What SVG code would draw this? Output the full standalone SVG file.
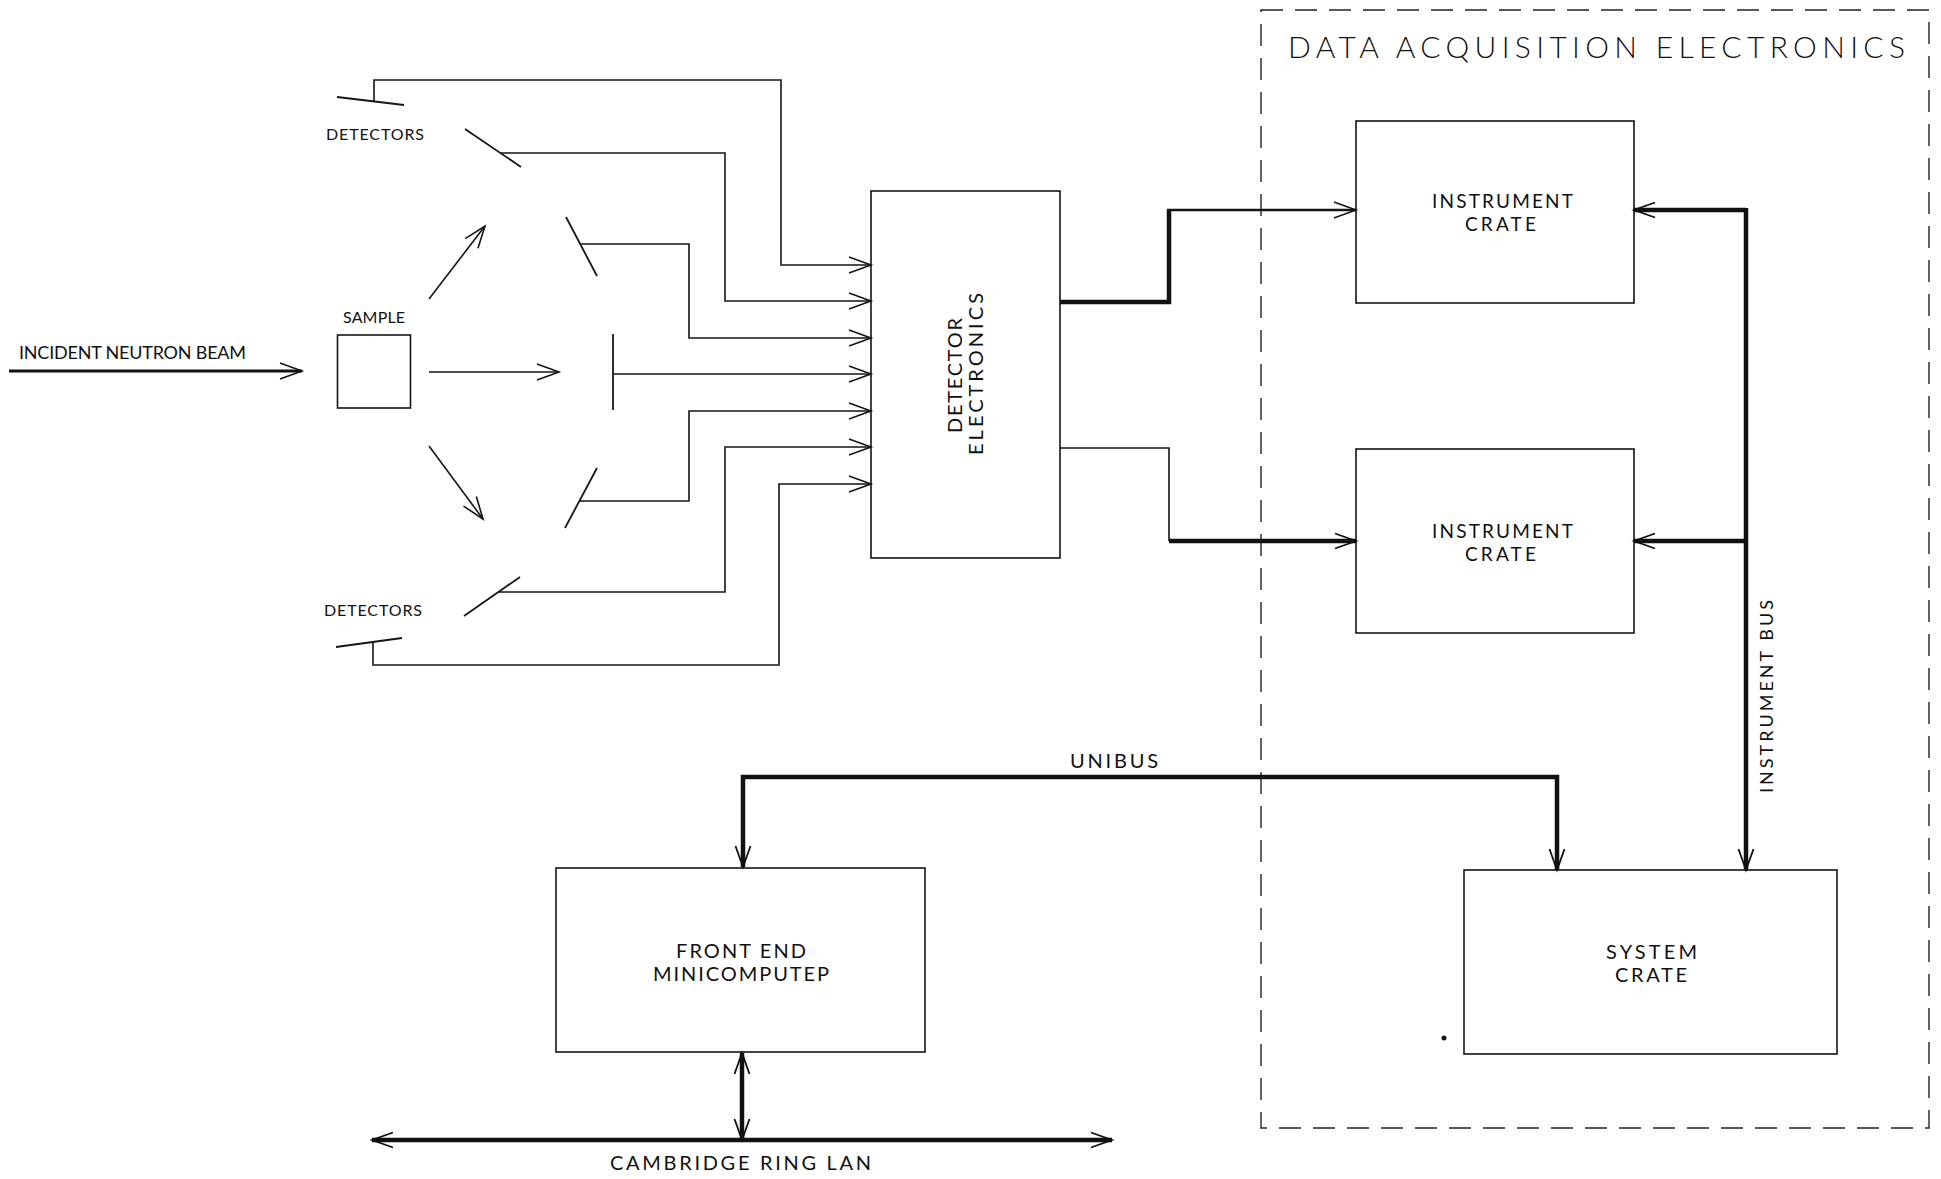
<svg xmlns="http://www.w3.org/2000/svg" width="1941" height="1179" viewBox="0 0 1941 1179">
<style>
  .bg{fill:#fff}
  .box{fill:none;stroke:#151515;stroke-width:1.6}
  .thin{fill:none;stroke:#151515;stroke-width:1.6}
  .med{fill:none;stroke:#151515;stroke-width:2.4}
  .thick{fill:none;stroke:#111;stroke-width:4.5}
  .det{fill:none;stroke:#151515;stroke-width:1.8}
  .dash{fill:none;stroke:#222;stroke-width:1.4;stroke-dasharray:22 12}
  text{font-family:Lato,"Liberation Sans",Arial,sans-serif;font-weight:400;fill:#111;font-size:19px}
  .s16{font-size:16px}
  .s18{font-size:18px}
  .s20{font-size:20px}
  .s30{font-size:30px;font-weight:300}
</style>
<defs>
  <marker id="ah" viewBox="-24 -10 26 20" refX="0" refY="0" markerWidth="26" markerHeight="20" markerUnits="userSpaceOnUse" orient="auto-start-reverse" overflow="visible">
    <path d="M-22,-8 L0,0 L-22,8" fill="none" stroke="#151515" stroke-width="1.6"/>
  </marker>
  <marker id="ahb" viewBox="-24 -10 26 20" refX="0" refY="0" markerWidth="26" markerHeight="20" markerUnits="userSpaceOnUse" orient="auto-start-reverse" overflow="visible">
    <path d="M-21,-7.5 L0,0 L-21,7.5" fill="none" stroke="#111" stroke-width="1.8"/>
  </marker>
</defs>
<rect class="bg" x="0" y="0" width="1941" height="1179"/>

<g id="beam-label">
  <text x="19" y="359" class="s18" textLength="227" lengthAdjust="spacing">INCIDENT NEUTRON BEAM</text>
</g>

<g id="sample">
  <rect class="box" x="337.5" y="335" width="73" height="73"/>
  <text x="343" y="323" class="s16" textLength="62" lengthAdjust="spacing">SAMPLE</text>
</g>

<g id="detectors">
  <text x="326" y="140" class="s16" textLength="98" lengthAdjust="spacing">DETECTORS</text>
  <text x="324" y="616" class="s16" textLength="98" lengthAdjust="spacing">DETECTORS</text>
  <line class="det" x1="337" y1="97" x2="404" y2="105"/>
  <line class="det" x1="465" y1="129" x2="521" y2="167"/>
  <line class="det" x1="566" y1="217" x2="597" y2="276"/>
  <line class="det" x1="613" y1="334" x2="613" y2="410"/>
  <line class="det" x1="597" y1="468" x2="565" y2="528"/>
  <line class="det" x1="520" y1="577" x2="464" y2="616"/>
  <line class="det" x1="402" y1="638" x2="336" y2="647"/>
</g>

<g id="detector-electronics">
  <rect class="box" x="871" y="191" width="189" height="367"/>
  <g transform="translate(965,375) rotate(-90)">
    <text x="-58" y="-3" class="s20" textLength="115" lengthAdjust="spacing">DETECTOR</text>
    <text x="-80" y="18" class="s20" textLength="162" lengthAdjust="spacing">ELECTRONICS</text>
  </g>
</g>

<g id="data-acquisition-electronics">
  <rect class="dash" x="1261" y="10" width="668" height="1118"/>
  <text x="1288" y="58" class="s30" textLength="617" lengthAdjust="spacing">DATA ACQUISITION ELECTRONICS</text>
  <circle cx="1444" cy="1038" r="2.5" fill="#151515"/>
</g>

<g id="instrument-crate-1">
  <rect class="box" x="1356" y="121" width="278" height="182"/>
  <text x="1432" y="208" textLength="141" lengthAdjust="spacing">INSTRUMENT</text>
  <text x="1465" y="231" textLength="71" lengthAdjust="spacing">CRATE</text>
</g>

<g id="instrument-crate-2">
  <rect class="box" x="1356" y="449" width="278" height="184"/>
  <text x="1432" y="538" textLength="141" lengthAdjust="spacing">INSTRUMENT</text>
  <text x="1465" y="561" textLength="71" lengthAdjust="spacing">CRATE</text>
</g>

<g id="front-end-minicomputer">
  <rect class="box" x="556" y="868" width="369" height="184"/>
  <text x="676" y="958" class="s20" textLength="130" lengthAdjust="spacing">FRONT END</text>
  <text x="653" y="981" class="s20" textLength="176" lengthAdjust="spacing">MINICOMPUTEP</text>
</g>

<g id="system-crate">
  <rect class="box" x="1464" y="870" width="373" height="184"/>
  <text x="1606" y="959" class="s20" textLength="91" lengthAdjust="spacing">SYSTEM</text>
  <text x="1615" y="982" class="s20" textLength="72" lengthAdjust="spacing">CRATE</text>
</g>

<g id="connectors">
  <!-- incident beam -->
  <path d="M9,371 H302" fill="none" stroke="#111" stroke-width="3" marker-end="url(#ah)"/>
  <!-- scattered beams -->
  <path class="thin" d="M429,372 H559" marker-end="url(#ah)"/>
  <path class="thin" d="M429,299 L485,226" marker-end="url(#ah)"/>
  <path class="thin" d="M429,446 L483,519" marker-end="url(#ah)"/>
  <!-- detector signal lines -->
  <path class="thin" d="M374,101 V80 H781 V265 H871" marker-end="url(#ah)"/>
  <path class="thin" d="M500,153 H725 V301 H871" marker-end="url(#ah)"/>
  <path class="thin" d="M580,244 H689 V338 H871" marker-end="url(#ah)"/>
  <path class="thin" d="M613,374 H871" marker-end="url(#ah)"/>
  <path class="thin" d="M579,501 H689 V411 H871" marker-end="url(#ah)"/>
  <path class="thin" d="M498,592 H725 V447 H871" marker-end="url(#ah)"/>
  <path class="thin" d="M373,642 V665 H779 V484 H871" marker-end="url(#ah)"/>
  <!-- detector electronics to instrument crates -->
  <path class="thick" d="M1060,302 H1169 V210"/>
  <path class="med" d="M1167,210 H1356" marker-end="url(#ah)"/>
  <path class="thin" d="M1060,448 H1169 V541"/>
  <path class="thick" d="M1169,541 H1356" marker-end="url(#ahb)"/>
  <!-- instrument bus -->
  <path class="thick" d="M1746,208 V870" marker-end="url(#ahb)"/>
  <path class="thick" d="M1746,210 H1634" marker-end="url(#ahb)"/>
  <path class="thick" d="M1746,541 H1634" marker-end="url(#ahb)"/>
  <text transform="translate(1773,793) rotate(-90)" x="0" y="0" class="s18" textLength="193" lengthAdjust="spacing">INSTRUMENT BUS</text>
  <!-- unibus -->
  <path class="thick" d="M743,867 V777 H1557 V870" marker-start="url(#ahb)" marker-end="url(#ahb)"/>
  <text x="1070" y="768" class="s20" textLength="88" lengthAdjust="spacing">UNIBUS</text>
  <!-- cambridge ring -->
  <path class="thick" d="M372,1140 H1112" marker-start="url(#ahb)" marker-end="url(#ahb)"/>
  <path class="thick" d="M742,1053 V1140" marker-start="url(#ahb)" marker-end="url(#ahb)"/>
  <text x="610" y="1170" class="s20" textLength="261" lengthAdjust="spacing">CAMBRIDGE RING LAN</text>
</g>
</svg>
